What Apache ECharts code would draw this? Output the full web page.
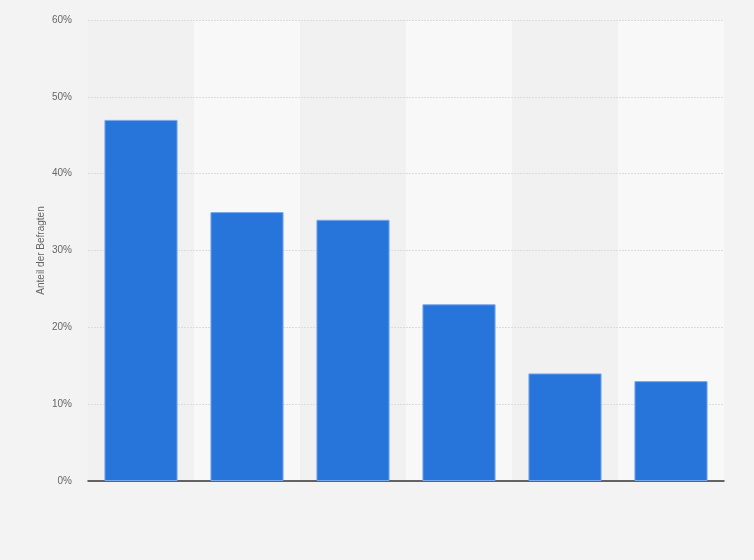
<!DOCTYPE html>
<html>
<head>
    <meta charset="utf-8">
    <title>Anteil der Befragten</title>
    <script src="https://cdn.jsdelivr.net/npm/echarts@6/dist/echarts.min.js"></script>
    <style>
        html, body { margin: 0; background: #f3f3f3; }
        #chart { width: 754px; height: 560px; }
    </style>
</head>
<body>
<div id="chart"></div>
<script type="text/javascript">
    // Kategorien sind im Bild nicht beschriftet
    var categories = ['1', '2', '3', '4', '5', '6'];
    var values = [47, 35, 34, 23, 14, 13];
    var yTicks = [0, 10, 20, 30, 40, 50, 60];

    var myChart = echarts.init(document.getElementById('chart'));

    myChart.setOption({
        backgroundColor: '#f3f3f3',
        animation: false,
        grid: {
            left: 88,
            right: 30,
            top: 20,
            bottom: 79
        },
        xAxis: {
            type: 'category',
            data: categories,
            z: 0,
            axisLine: { lineStyle: { color: '#333', width: 1.5 } },
            axisTick: { show: false },
            axisLabel: { show: false },
            splitArea: {
                show: true,
                areaStyle: { color: ['#f1f1f1', '#f8f8f8'] }
            }
        },
        yAxis: {
            type: 'value',
            z: 1,
            min: yTicks[0],
            max: yTicks[yTicks.length - 1],
            interval: 10,
            name: 'Anteil der Befragten',
            nameLocation: 'middle',
            nameGap: 42,
            nameMoveOverlap: false,
            nameTextStyle: { color: '#666', fontSize: 10, fontFamily: 'Arial, Liberation Sans' },
            axisLine: { show: false },
            axisTick: { show: false },
            axisLabel: {
                color: '#666',
                fontSize: 10,
                fontFamily: 'Arial, Liberation Sans',
                margin: 16,
                formatter: '{value}%'
            },
            splitLine: {
                showMinLine: false,
                lineStyle: { color: '#dcdcdc', type: [2, 1], width: 1 }
            }
        },
        series: [{
            type: 'bar',
            z: 2,
            data: values,
            barWidth: '69%',
            itemStyle: {
                color: '#2775db',
                borderColor: '#7aa8ea',
                borderWidth: 1
            }
        }]
    });
</script>
</body>
</html>
